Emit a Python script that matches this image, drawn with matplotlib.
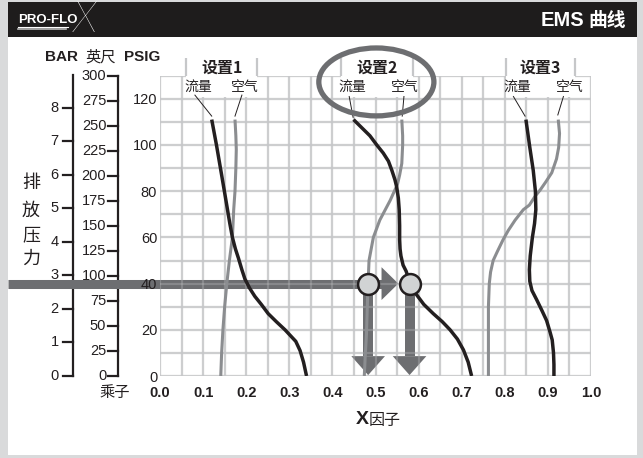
import matplotlib
matplotlib.use("Agg")
import matplotlib.pyplot as plt
from matplotlib.patches import Rectangle, Ellipse, Polygon

# ---------------- data ----------------
x_ticks = [0.0, 0.1, 0.2, 0.3, 0.4, 0.5, 0.6, 0.7, 0.8, 0.9, 1.0]
x_tick_labels = ["0.0", "0.1", "0.2", "0.3", "0.4", "0.5", "0.6", "0.7", "0.8", "0.9", "1.0"]
psig_ticks = [0, 20, 40, 60, 80, 100, 120]
bar_ticks = [0, 1, 2, 3, 4, 5, 6, 7, 8]
feet_ticks = [0, 25, 50, 75, 100, 125, 150, 175, 200, 225, 250, 275, 300]
PSI_PER_BAR = 14.5038
PSI_PER_FOOT = 0.4335

setting_names = ["设置1", "设置2", "设置3"]
flow_name = "流量"
air_name = "空气"

flow1_x = [0.120, 0.131, 0.143, 0.153, 0.162, 0.168, 0.175, 0.182, 0.190, 0.197, 0.208, 0.220, 0.235, 0.251, 0.270, 0.290, 0.305, 0.315, 0.325, 0.333, 0.340]
flow1_y = [111, 100, 87, 76, 66, 60, 55, 51, 46, 42, 38, 34.5, 31, 27, 23.5, 20, 17, 15, 11, 6, 0]
air1_x = [0.174, 0.176, 0.177, 0.176, 0.174, 0.171, 0.168, 0.161, 0.155, 0.150, 0.146, 0.143, 0.141]
air1_y = [111, 104, 98, 90, 80, 72, 60, 50, 40, 30, 20, 10, 0]

flow2_x = [0.449, 0.468, 0.487, 0.503, 0.518, 0.530, 0.538, 0.545, 0.549, 0.553, 0.555, 0.556, 0.556, 0.557, 0.559, 0.564, 0.571, 0.579, 0.592, 0.612, 0.634, 0.655, 0.673, 0.690, 0.704, 0.715, 0.723]
flow2_y = [111, 107.5, 104, 100, 96.5, 93, 89, 85, 82, 77, 72, 65, 59, 55, 52, 48, 45.4, 41, 36, 31, 27, 23.5, 20, 16, 11.3, 6, 0]
air2_x = [0.561, 0.563, 0.563, 0.561, 0.556, 0.551, 0.534, 0.510, 0.495, 0.485, 0.483, 0.481, 0.479, 0.476, 0.474]
air2_y = [111, 104, 100, 92, 87, 83, 76, 67.5, 60, 50, 41, 30, 18, 8, 0]

flow3_x = [0.849, 0.858, 0.866, 0.871, 0.872, 0.869, 0.864, 0.859, 0.857, 0.858, 0.863, 0.874, 0.887, 0.897, 0.905, 0.910, 0.913, 0.914, 0.914]
flow3_y = [111, 99, 89, 80, 72, 66, 60, 52, 46, 41, 37, 33, 28, 24, 19, 15.6, 10, 5, 0]
air3_x = [0.924, 0.927, 0.925, 0.920, 0.909, 0.895, 0.882, 0.871, 0.857, 0.843, 0.824, 0.808, 0.796, 0.783, 0.773, 0.767, 0.764, 0.762, 0.762, 0.762]
air3_y = [111, 105, 99, 94, 88, 84, 80.5, 78, 74, 72, 67.5, 63, 59, 54, 50, 45, 40, 30, 15, 0]

op_pressure_psig = 40
op_air_factor = 0.483
op_flow_factor = 0.579

# ---------------- style ----------------
NUM = ["Liberation Sans Narrow", "Liberation Sans", "Noto Sans CJK SC", "DejaVu Sans"]
CJK = ["Noto Sans CJK SC", "DejaVu Sans"]
plt.rcParams["font.family"] = NUM

BLACK = "#231f20"
AIR = "#8b8d90"
GRID = "#c6c7c9"
ARROW = "#6d6e71"
CIRCLE = "#d1d3d4"
NUMSIZE = 10.5

W, H = 643, 458
fig = plt.figure(figsize=(W / 100, H / 100), dpi=100, facecolor="#d9dadb")


def fx(px):
    return px / W


def fy(py):
    return 1 - py / H


# white panel + header bar
fig.patches.append(Rectangle((fx(8), fy(455)), fx(637) - fx(8), fy(37) - fy(455),
                             transform=fig.transFigure, facecolor="white", edgecolor="none", zorder=-5))
fig.patches.append(Rectangle((fx(8), fy(37)), fx(637) - fx(8), fy(2) - fy(37),
                             transform=fig.transFigure, facecolor="#1e1c1c", edgecolor="none", zorder=-5))

# logo
fig.text(fx(18), fy(20), "PRO-FLO", color="white", fontsize=9.5, fontweight="bold",
         family=["Liberation Sans", "DejaVu Sans"], va="center", ha="left")
fig.add_artist(plt.Line2D([fx(18), fx(68)], [fy(26.5), fy(26.5)], transform=fig.transFigure,
                          color="white", lw=0.8))
fig.add_artist(plt.Line2D([fx(18), fx(66)], [fy(28.5), fy(28.5)], transform=fig.transFigure,
                          color="#bbbbbb", lw=1.2))
fig.text(fx(85), fy(20), "X", color="white", fontsize=31, family=["Lato", "DejaVu Sans"],
         fontweight="light", style="italic", va="center", ha="center")
fig.text(fx(584), fy(20), "EMS", color="white", fontsize=14.5, fontweight="bold",
         family=NUM, va="center", ha="right")
fig.text(fx(588), fy(20), "曲线", color="white", fontsize=13.5, fontweight="bold",
         family=CJK, va="center", ha="left")

# main axes: x 0..1 at px 160..591 ; psig 0..130 at px 376..75.7
ax = fig.add_axes([fx(160), fy(376), fx(591) - fx(160), fy(75.7) - fy(376)])
ax.set_xlim(0, 1)
ax.set_ylim(0, 130)
ax.set_facecolor("none")
ax.set_axisbelow(False)
for s in ax.spines.values():
    s.set_visible(False)

# grid (second faint pass drawn over the arrows)
gx = [i * 0.05 for i in range(21)]
gy = [i * 10 for i in range(14)]
ax.vlines(gx, 0, 130, color=GRID, lw=1.6, alpha=0.8, zorder=2)
ax.hlines(gy, 0, 1, color=GRID, lw=1.6, alpha=0.8, zorder=2)
ax.vlines(gx, 0, 130, color=GRID, lw=1.6, alpha=0.3, zorder=2.3)
ax.hlines(gy, 0, 1, color=GRID, lw=1.6, alpha=0.3, zorder=2.3)

# tabs for the setting labels
tabs = [(0.06, 0.226), (0.42, 0.586), (0.802, 0.963)]
flow_lbl_x = [0.088, 0.447, 0.829]
air_lbl_x = [0.197, 0.568, 0.951]
flow_leader = [((0.081, 121.6), (0.120, 112.5)), ((0.439, 121.0), (0.448, 112.0)), ((0.820, 121.0), (0.847, 112.5))]
air_leader = [((0.190, 121.6), (0.174, 112.5)), ((0.566, 121.0), (0.562, 112.5)), ((0.936, 121.0), (0.923, 113.0))]
for (a, b), name, flx, alx, fl, al in zip(tabs, setting_names, flow_lbl_x, air_lbl_x, flow_leader, air_leader):
    ax.add_patch(Rectangle((a, 120.6), b - a, 10.5, facecolor="white", edgecolor="none",
                           zorder=2.5, clip_on=False))
    ax.vlines([a, b], 129.7, 137.6, color=GRID, lw=1.6, zorder=2.5, clip_on=False)
    ax.text((a + b) / 2, 133.6, name, family=CJK, fontsize=11.5, fontweight="bold",
            ha="center", va="center", color=BLACK, zorder=7, clip_on=False)
    ax.text(flx, 125.3, flow_name, family=CJK, fontsize=10, ha="center", va="center",
            color=BLACK, zorder=7)
    ax.text(alx, 125.3, air_name, family=CJK, fontsize=10, ha="center", va="center",
            color=BLACK, zorder=7)
    ax.plot([fl[0][0], fl[1][0]], [fl[0][1], fl[1][1]], color=BLACK, lw=0.7, zorder=4)
    ax.plot([al[0][0], al[1][0]], [al[0][1], al[1][1]], color=BLACK, lw=0.7, zorder=4)

# curves
for xs, ys in [(air1_x, air1_y), (air2_x, air2_y), (air3_x, air3_y)]:
    ax.plot(xs, ys, color=AIR, lw=2.2, zorder=3, solid_capstyle="butt", solid_joinstyle="round")
for xs, ys in [(flow1_x, flow1_y), (flow2_x, flow2_y), (flow3_x, flow3_y)]:
    ax.plot(xs, ys, color=BLACK, lw=2.5, zorder=3.2, solid_capstyle="butt", solid_joinstyle="round")

# operating point arrows
band_left = (8 - 160) / 431
ax.plot([band_left, 0.516], [op_pressure_psig, op_pressure_psig], color=ARROW, lw=6.5,
        solid_capstyle="butt", zorder=2.2, clip_on=False)
ax.add_patch(Polygon([(0.514, op_pressure_psig - 7.1), (0.514, op_pressure_psig + 7.1),
                      (0.553, op_pressure_psig)], closed=True, facecolor=ARROW,
                     edgecolor="none", zorder=2.2))
for xv in (op_air_factor, op_flow_factor):
    ax.plot([xv, xv], [op_pressure_psig, 8.6], color=ARROW, lw=7.2, solid_capstyle="butt", zorder=2.2)
    ax.add_patch(Polygon([(xv - 0.039, 8.6), (xv + 0.039, 8.6), (xv, 0.4)], closed=True,
                         facecolor=ARROW, edgecolor="none", zorder=2.2))
ax.scatter([op_air_factor, op_flow_factor], [op_pressure_psig, op_pressure_psig], s=225,
           facecolor=CIRCLE, edgecolor=BLACK, linewidths=1.8, zorder=5)

# highlight ellipse around setting 2
ax.add_patch(Ellipse((0.502, 127.3), 0.267, 29.4, facecolor="none", edgecolor=ARROW,
                     lw=3.8, zorder=6, clip_on=False))

# ticks
ax.set_xticks(x_ticks, x_tick_labels, fontweight="bold", fontsize=NUMSIZE, family=NUM)
ax.set_yticks(psig_ticks, [str(v) for v in psig_ticks], fontsize=NUMSIZE, family=NUM)
ax.tick_params(axis="both", length=0, colors=BLACK)
ax.tick_params(axis="x", pad=7)
ax.tick_params(axis="y", pad=2)
ax.xaxis.set_zorder(8)
ax.yaxis.set_zorder(8)

# BAR and feet scales (left side)
bar_line = (72.7 - 160) / 431
feet_line = (118.3 - 160) / 431
tick_len = 10 / 431
ax.plot([bar_line, bar_line], [0, 130.5], color=BLACK, lw=1.6, zorder=0.5, clip_on=False)
ax.plot([feet_line, feet_line], [0, feet_ticks[-1] * PSI_PER_FOOT], color=BLACK, lw=1.6,
        zorder=0.5, clip_on=False)
for b in bar_ticks:
    p = b * PSI_PER_BAR
    ax.plot([bar_line - tick_len, bar_line], [p, p], color=BLACK, lw=1.6, zorder=0.5, clip_on=False)
    ax.text(bar_line - tick_len - 4 / 431, p, str(b), ha="right", va="center", fontsize=NUMSIZE,
            family=NUM, color=BLACK, zorder=7, clip_on=False)
for f in feet_ticks:
    p = f * PSI_PER_FOOT
    ax.plot([feet_line - tick_len, feet_line], [p, p], color=BLACK, lw=1.6, zorder=0.5, clip_on=False)
    ax.text(feet_line - tick_len - 2 / 431, p, str(f), ha="right", va="center", fontsize=NUMSIZE,
            family=NUM, color=BLACK, zorder=7, clip_on=False)

# axis titles
fig.text(fx(61), fy(57), "BAR", fontsize=11, fontweight="bold", family=NUM, ha="center", va="center", color=BLACK)
fig.text(fx(101), fy(57), "英尺", fontsize=11, family=CJK, ha="center", va="center", color=BLACK)
fig.text(fx(142.5), fy(57), "PSIG", fontsize=11, fontweight="bold", family=NUM, ha="center", va="center", color=BLACK)
for ch, py in zip("排放压力", [183, 210.5, 235, 258.5]):
    fig.text(fx(31), fy(py), ch, fontsize=13, family=CJK, ha="center", va="center", color=BLACK)
fig.text(fx(115), fy(392), "乘子", fontsize=11, family=CJK, ha="center", va="center", color=BLACK)
fig.text(fx(369), fy(420), "X", fontsize=14, fontweight="bold", family=NUM, ha="right", va="center", color=BLACK)
fig.text(fx(369), fy(420), "因子", fontsize=11.5, family=CJK, ha="left", va="center", color=BLACK)

fig.savefig("out.png", dpi=100, facecolor=fig.get_facecolor())
